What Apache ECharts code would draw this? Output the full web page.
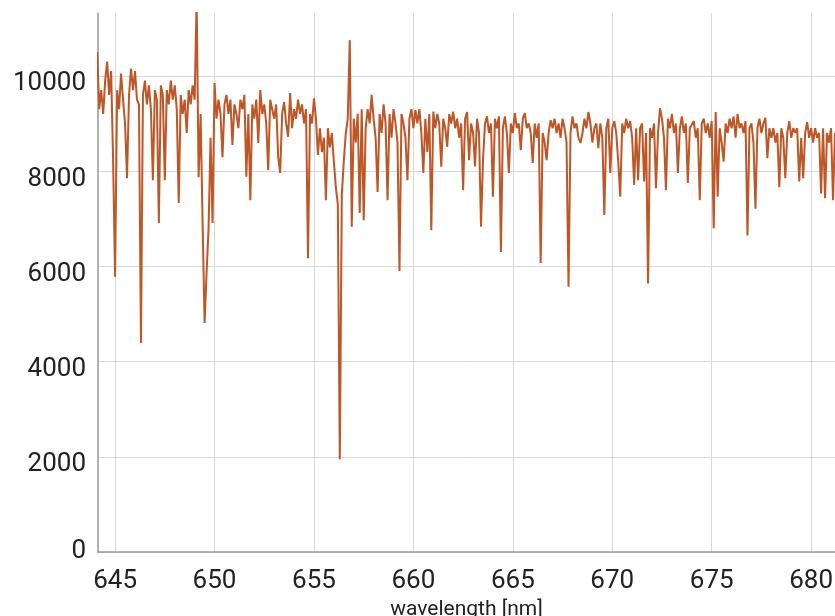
<!DOCTYPE html>
<html>
<head>
<meta charset="utf-8">
<script src="https://cdn.jsdelivr.net/npm/echarts@6/dist/echarts.min.js"></script>
<style>
html,body{margin:0;padding:0;background:#fff;}
#chart{width:835px;height:616px;}
</style>
</head>
<body>
<div id="chart"></div>
<script>
// Spectrum sampling: first wavelength and step (nm)
const startWavelength = 644.1;
const stepNm = 0.1;

// Intensity values, one per 0.1 nm from 644.1 nm
const intensity = [
  10500, 9300, 9700, 9200, 9900, 10300, 9600, 10100, 8200,
  5780, 9700, 9300, 10050, 9500, 9000, 7850, 9600, 10150, 9700,
  10100, 9500, 9400, 4390, 9600, 9900, 9400, 9800, 9300, 7810,
  9700, 9500, 6910, 9800, 9600, 7810, 9700, 9400, 9900, 9500,
  9800, 9300, 7330, 9600, 9200, 9500, 8800, 9700, 9400, 9800,
  9500, 11600, 7870, 9200, 6900, 4810, 5860, 6800, 8700, 6910,
  9850, 9100, 9500, 9200, 8290, 9400, 9600, 9200, 9500, 8550,
  9400, 9200, 8900, 9500, 9300, 9600, 7880, 9200, 7390, 9400,
  9100, 9500, 8590, 9700, 9200, 9400, 9000, 8020, 9500, 9300,
  9100, 9400, 8300, 7960, 9200, 9450, 9000, 8720, 9640, 8900,
  9300, 9100, 9500, 9200, 9400, 9000, 9300, 6170, 9200, 9000,
  9530, 9100, 8340, 8900, 8400, 8700, 7390, 8900, 8500, 8800,
  8200, 7660, 7300, 1950, 7500, 8200, 8800, 9100, 10750, 6830,
  9100, 8600, 9200, 7120, 9300, 6970, 8900, 9300, 9000, 9600,
  9100, 8700, 7560, 9200, 8800, 9400, 9000, 7390, 9200, 8700,
  9300, 9000, 8600, 5900, 9200, 9000, 8700, 7810, 9100, 9300,
  8900, 9280, 9000, 9300, 8800, 7960, 9100, 8400, 9200, 6760,
  9250, 8900, 9200, 9000, 8090, 9100, 8900, 8510, 9200, 9000,
  9250, 8900, 9100, 8700, 9000, 7600, 9100, 9240, 8230, 9000,
  8800, 8100, 9100, 8800, 6830, 8230, 9000, 9150, 8800, 9000,
  7460, 9100, 8900, 9150, 6300, 8900, 9150, 8800, 7960, 9000,
  8800, 9220, 8900, 9000, 8440, 9100, 9220, 8900, 9000, 8800,
  8170, 9000, 8700, 9000, 6070, 8800, 8600, 8230, 8800, 9070,
  8900, 9100, 8800, 9000, 8700, 9100, 8900, 8600, 5570, 8800,
  9150, 8900, 9000, 8700, 8590, 8800, 9100, 8900, 9240, 9000,
  8600, 8900, 9000, 8480, 9000, 8700, 7080, 8900, 9100, 7960,
  8900, 9050, 8800, 8200, 7460, 9000, 8800, 9100, 8900, 9050,
  8700, 7710, 8900, 7810, 8900, 9000, 7780, 8800, 5640, 8900,
  8700, 9000, 7640, 8800, 9320, 9100, 8700, 7600, 9100, 8900,
  9200, 8800, 9000, 7960, 8900, 9150, 8800, 9000, 7750, 8900,
  8900, 9050, 8700, 8900, 7390, 9000, 9100, 8800, 9000, 8700,
  9050, 6800, 9240, 7460, 8900, 8600, 8200, 9000, 8800, 9100,
  8900, 9150, 8700, 9200, 8900, 9000, 8800, 9050, 6650, 8900,
  9000, 8600, 7210, 8900, 9100, 8800, 9000, 9120, 8270, 8900,
  8700, 8900, 8600, 8800, 7660, 8900, 8700, 7850, 8800, 9050,
  8700, 8900, 8800, 8900, 7780, 8700, 7850, 8800, 9030, 8700,
  8900, 8600, 8900, 8700, 8800, 7530, 8900, 7430, 8800, 8600,
  8900, 7390, 8800, 8700
];

// Tick labels
const xTicks = [645, 650, 655, 660, 665, 670, 675, 680];
const yTicks = [0, 2000, 4000, 6000, 8000, 10000];

const seriesData = intensity.map((v, i) => [+(startWavelength + i * stepNm).toFixed(1), v]);

const labelFont = {fontFamily: 'Roboto', fontSize: 26, color: '#222'};

const chart = echarts.init(document.getElementById('chart'), null, {renderer: 'canvas'});
chart.setOption({
  animation: false,
  backgroundColor: '#ffffff',
  grid: {left: 98, right: 0, top: 13, bottom: 64, containLabel: false, outerBoundsMode: 'none'},
  xAxis: {
    type: 'value',
    min: 644.14,
    max: 681.2,
    name: 'wavelength [nm]',
    nameLocation: 'middle',
    nameGap: 47,
    nameTextStyle: {fontFamily: 'Roboto', fontSize: 21, color: '#222'},
    axisLine: {show: true, lineStyle: {color: '#999', width: 1.5}},
    axisTick: {show: false, customValues: xTicks},
    axisLabel: Object.assign({customValues: xTicks, margin: 16, formatter: v => String(v)}, labelFont),
    splitLine: {show: true, lineStyle: {color: '#d9d9d9', width: 1}}
  },
  yAxis: {
    type: 'value',
    min: 0,
    max: 11320,
    axisLine: {show: true, lineStyle: {color: '#999', width: 1.5}},
    axisTick: {show: false, customValues: yTicks},
    axisLabel: Object.assign({
      customValues: yTicks,
      margin: 12,
      formatter: v => v === 0 ? '{z|0}' : '{n|' + v + '}',
      rich: {
        n: Object.assign({padding: [16, 0, 0, 0]}, labelFont),
        z: Object.assign({padding: [0, 0, 2, 0]}, labelFont)
      }
    }, labelFont),
    splitLine: {show: true, lineStyle: {color: '#d9d9d9', width: 1}}
  },
  series: [{
    type: 'line',
    data: seriesData,
    showSymbol: false,
    symbol: 'none',
    clip: true,
    lineStyle: {color: '#bf5626', width: 2},
    emphasis: {disabled: true}
  }]
});
</script>
</body>
</html>
